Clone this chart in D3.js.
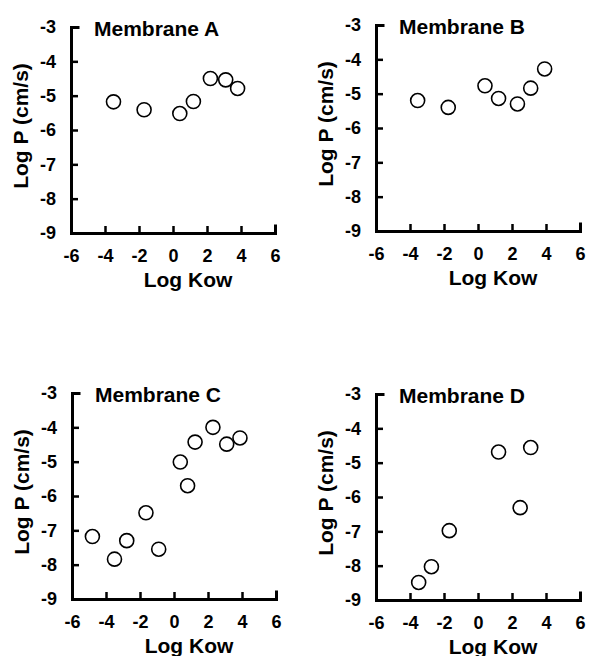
<!DOCTYPE html>
<html>
<head>
<meta charset="utf-8">
<script src="https://cdn.jsdelivr.net/npm/d3@7"></script>
<style>
  body { margin: 0; background: #fff; }
  text { font-family: "Liberation Sans", Arial, Helvetica, sans-serif; font-weight: bold; fill: #000; }
  .axis .domain { stroke-width: 3px; stroke-linecap: square; }
  .axis .tick line { stroke-width: 2.5px; }
  .axis .tick text { font-size: 18px; }
</style>
</head>
<body>
<div id="chart"></div>
<script>
// Data: log Kow vs log P for four membranes
var titles = ["Membrane A", "Membrane B", "Membrane C", "Membrane D"];

var kowA = [-3.5, -1.7, 0.4, 1.2, 2.2, 3.1, 3.8];
var logPA = [-5.18, -5.41, -5.52, -5.17, -4.5, -4.54, -4.79];

var kowB = [-3.55, -1.75, 0.41, 1.21, 2.32, 3.1, 3.92];
var logPB = [-5.2, -5.4, -4.77, -5.14, -5.3, -4.84, -4.28];

var kowC = [-4.8, -3.5, -2.78, -1.65, -0.9, 0.37, 0.8, 1.24, 2.29, 3.1, 3.88];
var logPC = [-7.18, -7.84, -7.3, -6.49, -7.55, -5.01, -5.7, -4.43, -4.0, -4.49, -4.31];

var kowD = [-3.49, -2.74, -1.69, 1.21, 2.48, 3.1];
var logPD = [-8.49, -8.03, -6.98, -4.69, -6.31, -4.56];

var xTicks = [-6, -4, -2, 0, 2, 4, 6];
var yTicks = [-3, -4, -5, -6, -7, -8, -9];

var W = 589, H = 656;
var pw = 204, ph = 206; // plot area size

var svg = d3.select("#chart").append("svg")
  .attr("width", W).attr("height", H)
  .style("display", "block");

// where each panel's plot area starts (left, top)
var panels = [
  { title: titles[0], xs: kowA, ys: logPA, left: 71, top: 27 },
  { title: titles[1], xs: kowB, ys: logPB, left: 376, top: 25 },
  { title: titles[2], xs: kowC, ys: logPC, left: 72, top: 393 },
  { title: titles[3], xs: kowD, ys: logPD, left: 376, top: 394 }
];

var x = d3.scaleLinear().domain([-6, 6]).range([0, pw]);
var y = d3.scaleLinear().domain([-9, -3]).range([ph, 0]);

// figure uses a plain hyphen for negatives
var fmt = function(d) { return String(d); };

panels.forEach(function(p) {
  var g = svg.append("g").attr("transform", "translate(" + p.left + "," + p.top + ")");

  // points first, axes on top
  var pts = p.xs.map(function(v, i) { return [v, p.ys[i]]; });
  g.selectAll("circle").data(pts).enter().append("circle")
    .attr("cx", function(d) { return x(d[0]); })
    .attr("cy", function(d) { return y(d[1]); })
    .attr("r", 7)
    .attr("fill", "#fff")
    .attr("stroke", "#000")
    .attr("stroke-width", 1.6);

  // ticks point into the plot
  g.append("g").attr("class", "axis")
    .attr("transform", "translate(0," + ph + ")")
    .call(d3.axisBottom(x).tickValues(xTicks).tickSize(-7).tickPadding(16).tickFormat(fmt));

  g.append("g").attr("class", "axis")
    .call(d3.axisLeft(y).tickValues(yTicks).tickSize(-7).tickPadding(15).tickFormat(fmt));

  // title inside the top left
  g.append("text")
    .attr("x", 23).attr("y", 9)
    .style("font-size", "21px")
    .text(p.title);

  g.append("text")
    .attr("x", pw / 2 + 15).attr("y", ph + 54)
    .attr("text-anchor", "middle")
    .style("font-size", "21px")
    .text("Log Kow");

  g.append("text")
    .attr("transform", "translate(-43," + (ph / 2 - 4) + ") rotate(-90)")
    .attr("text-anchor", "middle")
    .style("font-size", "21px")
    .text("Log P (cm/s)");
});
</script>
</body>
</html>
